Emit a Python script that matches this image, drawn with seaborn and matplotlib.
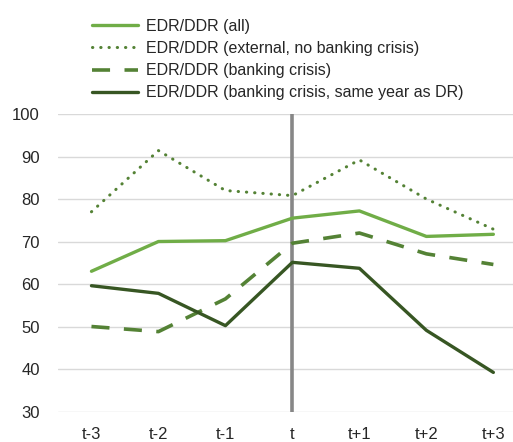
import pandas as pd
import seaborn as sns
import matplotlib.pyplot as plt

# Data
periods = ['t-3', 't-2', 't-1', 't', 't+1', 't+2', 't+3']
edr_all = [63.0, 70.0, 70.2, 75.5, 77.2, 71.2, 71.7]
edr_external = [77.0, 91.4, 82.0, 80.8, 89.2, 80.0, 72.9]
edr_banking = [50.0, 48.8, 56.5, 69.6, 72.0, 67.1, 64.6]
edr_banking_same = [59.6, 57.8, 50.2, 65.1, 63.7, 49.1, 39.2]

labels = ['EDR/DDR (all)',
          'EDR/DDR (external, no banking crisis)',
          'EDR/DDR (banking crisis)',
          'EDR/DDR (banking crisis, same year as DR)']

df = pd.DataFrame({'period': periods,
                   labels[0]: edr_all,
                   labels[1]: edr_external,
                   labels[2]: edr_banking,
                   labels[3]: edr_banking_same})

sns.set_style('white')
plt.rcParams['font.family'] = ['Liberation Sans', 'DejaVu Sans']

fig = plt.figure(figsize=(5.13, 4.42), dpi=100)
ax = fig.add_axes([0.113, 0.069, 0.914, 0.673])

styles = [
    dict(color='#70AD47', lw=2.4, ls='-'),
    dict(color='#548235', lw=2.2, ls=(0, (0.1, 2.6)), dash_capstyle='round'),
    dict(color='#548235', lw=2.6, ls=(0, (5, 4))),
    dict(color='#375623', lw=2.4, ls='-'),
]

for lab, st in zip(labels, styles):
    sns.lineplot(data=df, x='period', y=lab, ax=ax, label=lab, sort=False, **st)

ax.axvline(periods.index('t'), color='#878787', lw=2.6, zorder=1)

ax.set_ylim(30, 100)
ax.set_xlim(-0.5, len(periods) - 0.5)
ax.set_yticks(range(30, 101, 10))
ax.yaxis.grid(True, color='#D9D9D9', lw=1)
ax.set_axisbelow(True)
for s in ax.spines.values():
    s.set_visible(False)
ax.tick_params(axis='both', length=0, labelsize=12, colors='#262626')
ax.tick_params(axis='y', pad=13)
ax.tick_params(axis='x', pad=11)
ax.set_xlabel('')
ax.set_ylabel('')

handles, labs = ax.get_legend_handles_labels()
ax.get_legend().remove()
fig.legend(handles, labs, loc='upper left', bbox_to_anchor=(0.167, 0.972),
           frameon=False, fontsize=11.5, handlelength=2.9, handletextpad=0.5,
           labelspacing=0.45, borderaxespad=0, labelcolor='#262626')

plt.savefig('out.png', dpi=100)
plt.close()
